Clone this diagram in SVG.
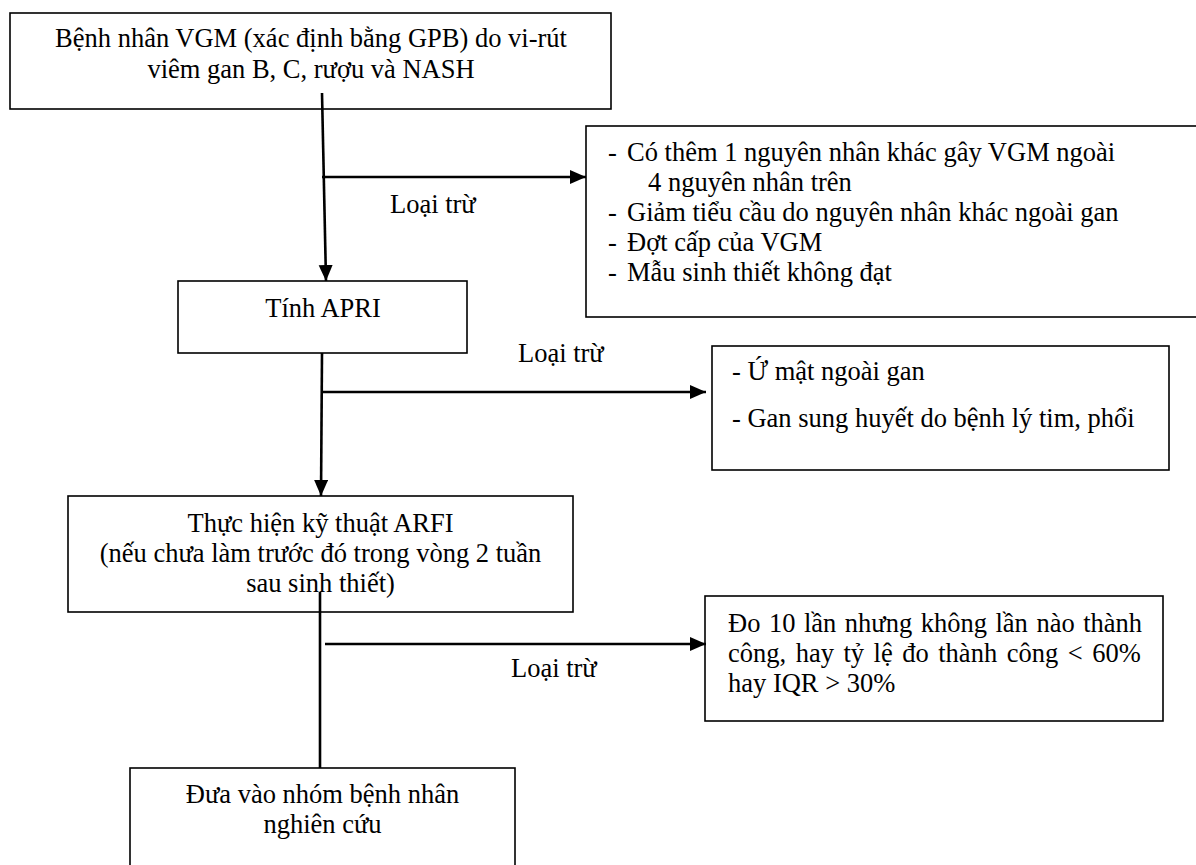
<svg xmlns="http://www.w3.org/2000/svg" width="1196" height="865" viewBox="0 0 1196 865">
<style>
  .box{fill:#fff;stroke:#000;stroke-width:1.6}
  .t{font-family:"Liberation Serif","Times New Roman",serif;font-size:26.5px;fill:#000}
  .c{text-anchor:middle}
  .conn{stroke:#000;stroke-width:2.6;fill:none}
</style>
<defs>
  <marker id="arr" markerUnits="userSpaceOnUse" markerWidth="17" markerHeight="15" refX="16" refY="7" orient="auto">
    <path d="M0,0 L16,7 L0,14 z" fill="#000"/>
  </marker>
</defs>
<rect x="0" y="0" width="1196" height="865" fill="#fff"/>

<g id="n-start">
  <rect class="box" x="10" y="13" width="601" height="96"/>
  <text class="t c" x="311" y="47">Bệnh nhân VGM (xác định bằng GPB) do vi-rút</text>
  <text class="t c" x="311" y="78">viêm gan B, C, rượu và NASH</text>
</g>

<g id="n-excl1">
  <rect class="box" x="586" y="126" width="614" height="191"/>
  <text class="t" x="608" y="161">-</text><text class="t" x="627" y="161">Có thêm 1 nguyên nhân khác gây VGM ngoài</text>
  <text class="t" x="648" y="191">4 nguyên nhân trên</text>
  <text class="t" x="608" y="221">-</text><text class="t" x="627" y="221">Giảm tiểu cầu do nguyên nhân khác ngoài gan</text>
  <text class="t" x="608" y="251">-</text><text class="t" x="627" y="251">Đợt cấp của VGM</text>
  <text class="t" x="608" y="281">-</text><text class="t" x="627" y="281">Mẫu sinh thiết không đạt</text>
</g>

<g id="n-apri">
  <rect class="box" x="178" y="281" width="289" height="72"/>
  <text class="t c" x="323" y="317">Tính APRI</text>
</g>

<g id="n-excl2">
  <rect class="box" x="712" y="346" width="457" height="124"/>
  <text class="t" x="732" y="380">- Ứ mật ngoài gan</text>
  <text class="t" x="732" y="427">- Gan sung huyết do bệnh lý tim, phổi</text>
</g>

<g id="n-arfi">
  <rect class="box" x="68" y="496" width="505" height="116"/>
  <text class="t c" x="320.5" y="532">Thực hiện kỹ thuật ARFI</text>
  <text class="t c" x="320.5" y="562">(nếu chưa làm trước đó trong vòng 2 tuần</text>
  <text class="t c" x="320.5" y="592">sau sinh thiết)</text>
</g>

<g id="n-excl3">
  <rect class="box" x="705" y="596" width="458" height="125"/>
  <text class="t" x="728" y="632" word-spacing="1.9">Đo 10 lần nhưng không lần nào thành</text>
  <text class="t" x="728" y="662" word-spacing="2.9">công, hay tỷ lệ đo thành công &lt; 60%</text>
  <text class="t" x="728" y="692">hay IQR &gt; 30%</text>
</g>

<g id="n-final">
  <rect class="box" x="130" y="768" width="385" height="110"/>
  <text class="t c" x="322.5" y="803">Đưa vào nhóm bệnh nhân</text>
  <text class="t c" x="322.5" y="833">nghiên cứu</text>
</g>

<g id="connectors">
  <line class="conn" x1="322" y1="93" x2="326" y2="281" marker-end="url(#arr)"/>
  <line class="conn" x1="322" y1="177" x2="586" y2="177" marker-end="url(#arr)"/>
  <line class="conn" x1="322" y1="353" x2="321" y2="496" marker-end="url(#arr)"/>
  <line class="conn" x1="322" y1="392" x2="706" y2="392" marker-end="url(#arr)"/>
  <line class="conn" x1="320" y1="592" x2="320" y2="768"/>
  <line class="conn" x1="325" y1="644" x2="706" y2="644" marker-end="url(#arr)"/>
</g>

<g id="labels">
  <text class="t" x="390" y="213">Loại trừ</text>
  <text class="t" x="518" y="362">Loại trừ</text>
  <text class="t" x="511" y="677">Loại trừ</text>
</g>
</svg>
